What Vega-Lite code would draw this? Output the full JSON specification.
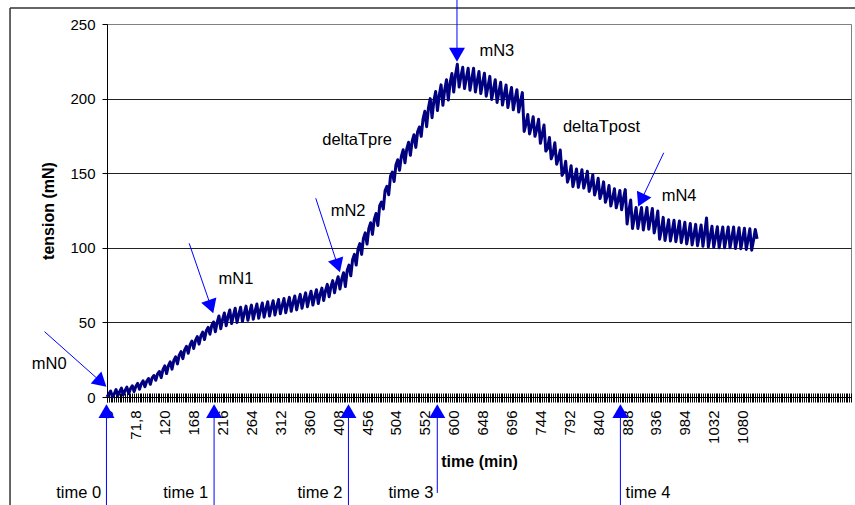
{
  "$schema": "https://vega.github.io/schema/vega-lite/v6.json",
  "width": 744,
  "height": 373,
  "autosize": {"type": "none"},
  "padding": {"left": 107, "top": 24, "right": 4, "bottom": 108},
  "background": "white",
  "config": {
    "font": "Liberation Sans",
    "view": {"stroke": "#808080", "strokeWidth": 1}
  },
  "datasets": {
    "series": [
{"i":0,"v":0},{"i":1,"v":2},{"i":2,"v":4},{"i":3,"v":0},{"i":4,"v":2},{"i":5,"v":5},{"i":6,"v":1},{"i":7,"v":3.5},{"i":8,"v":6},
{"i":9,"v":1.3},{"i":10,"v":4.4},{"i":11,"v":6.6},{"i":12,"v":2.2},{"i":13,"v":5.5},{"i":14,"v":7.5},{"i":15,"v":3.6},{"i":16,"v":7.2},{"i":17,"v":9.1},
{"i":18,"v":5.2},{"i":19,"v":8.8},{"i":20,"v":10.8},{"i":21,"v":6.9},{"i":22,"v":10.5},{"i":23,"v":12.4},{"i":24,"v":8.5},{"i":25,"v":12.8},{"i":26,"v":14.4},
{"i":27,"v":11.2},{"i":28,"v":15.5},{"i":29,"v":17.1},{"i":30,"v":13},{"i":31,"v":18.3},{"i":32,"v":20.9},{"i":33,"v":15.7},{"i":34,"v":21},{"i":35,"v":23.6},
{"i":36,"v":18.7},{"i":37,"v":24.5},{"i":38,"v":26.9},{"i":39,"v":22.2},{"i":40,"v":28.1},{"i":41,"v":30.4},{"i":42,"v":25.7},{"i":43,"v":31.6},{"i":44,"v":33.9},
{"i":45,"v":29.3},{"i":46,"v":35},{"i":47,"v":37.5},{"i":48,"v":32.5},{"i":49,"v":38},{"i":50,"v":40.5},{"i":51,"v":35.5},{"i":52,"v":41},{"i":53,"v":43.5},
{"i":54,"v":38.5},{"i":55,"v":44.4},{"i":56,"v":46.7},{"i":57,"v":42.1},{"i":58,"v":48},{"i":59,"v":50.3},{"i":60,"v":43.7},{"i":61,"v":50},{"i":62,"v":54.3},
{"i":63,"v":45.7},{"i":64,"v":52},{"i":65,"v":56.3},{"i":66,"v":47.7},{"i":67,"v":54},{"i":68,"v":58.3},{"i":69,"v":49.2},{"i":70,"v":54.7},{"i":71,"v":59.5},
{"i":72,"v":49.9},{"i":73,"v":55.4},{"i":74,"v":60.2},{"i":75,"v":50.6},{"i":76,"v":56.1},{"i":77,"v":60.9},{"i":78,"v":51.4},{"i":79,"v":56.8},{"i":80,"v":61.6},
{"i":81,"v":52.1},{"i":82,"v":57.5},{"i":83,"v":62.3},{"i":84,"v":52.8},{"i":85,"v":58.3},{"i":86,"v":63},{"i":87,"v":53.5},{"i":88,"v":59},{"i":89,"v":63.8},
{"i":90,"v":54.3},{"i":91,"v":59.8},{"i":92,"v":64.5},{"i":93,"v":55},{"i":94,"v":60.5},{"i":95,"v":65.3},{"i":96,"v":55.8},{"i":97,"v":61.3},{"i":98,"v":66},
{"i":99,"v":56.5},{"i":100,"v":62},{"i":101,"v":66.8},{"i":102,"v":57.4},{"i":103,"v":63.1},{"i":104,"v":67.7},{"i":105,"v":58.4},{"i":106,"v":64.1},{"i":107,"v":68.8},
{"i":108,"v":59.5},{"i":109,"v":65.2},{"i":110,"v":69.8},{"i":111,"v":60.5},{"i":112,"v":66.2},{"i":113,"v":70.9},{"i":114,"v":61.6},{"i":115,"v":67.3},{"i":116,"v":71.9},
{"i":117,"v":62.6},{"i":118,"v":68.8},{"i":119,"v":73},{"i":120,"v":64.7},{"i":121,"v":71.3},{"i":122,"v":75.5},{"i":123,"v":67.2},{"i":124,"v":73.9},{"i":125,"v":78},
{"i":126,"v":69.8},{"i":127,"v":76.5},{"i":128,"v":80.6},{"i":129,"v":72.4},{"i":130,"v":79.1},{"i":131,"v":83.3},{"i":132,"v":74},{"i":133,"v":84.8},{"i":134,"v":88.4},
{"i":135,"v":81.2},{"i":136,"v":92},{"i":137,"v":95.6},{"i":138,"v":88.4},{"i":139,"v":99.2},{"i":140,"v":102.8},{"i":141,"v":95.6},{"i":142,"v":106.3},{"i":143,"v":110},
{"i":144,"v":102.5},{"i":145,"v":113},{"i":146,"v":116.8},{"i":147,"v":109},{"i":148,"v":119},{"i":149,"v":123},{"i":150,"v":115},{"i":151,"v":128.3},{"i":152,"v":130.7},
{"i":153,"v":126},{"i":154,"v":138.4},{"i":155,"v":141.2},{"i":156,"v":135.6},{"i":157,"v":148},{"i":158,"v":150.8},{"i":159,"v":144.5},{"i":160,"v":155.5},{"i":161,"v":159},
{"i":162,"v":152},{"i":163,"v":161.3},{"i":164,"v":165.7},{"i":165,"v":157},{"i":166,"v":166.3},{"i":167,"v":170.7},{"i":168,"v":162},{"i":169,"v":171.5},{"i":170,"v":175.8},
{"i":171,"v":167.3},{"i":172,"v":177.8},{"i":173,"v":181},{"i":174,"v":174.7},{"i":175,"v":186.3},{"i":176,"v":191.5},{"i":177,"v":181.2},{"i":178,"v":193.6},{"i":179,"v":200},
{"i":180,"v":187.2},{"i":181,"v":198.4},{"i":182,"v":204.8},{"i":183,"v":192},{"i":184,"v":202.3},{"i":185,"v":209.2},{"i":186,"v":195.5},{"i":187,"v":205.8},{"i":188,"v":212.7},
{"i":189,"v":199},{"i":190,"v":210.6},{"i":191,"v":216.8},{"i":192,"v":204.4},{"i":193,"v":216},{"i":194,"v":223},{"i":195,"v":207.7},{"i":196,"v":215},{"i":197,"v":221},
{"i":198,"v":206.7},{"i":199,"v":214},{"i":200,"v":220.3},{"i":201,"v":205.6},{"i":202,"v":212.9},{"i":203,"v":220.3},{"i":204,"v":204.5},{"i":205,"v":211.8},{"i":206,"v":218.1},
{"i":207,"v":203.4},{"i":208,"v":210.3},{"i":209,"v":217},{"i":210,"v":201.6},{"i":211,"v":208.1},{"i":212,"v":214.9},{"i":213,"v":199.4},{"i":214,"v":206},{"i":215,"v":212.7},
{"i":216,"v":197.4},{"i":217,"v":204.3},{"i":218,"v":210.9},{"i":219,"v":195.7},{"i":220,"v":202.6},{"i":221,"v":209.1},{"i":222,"v":194},{"i":223,"v":201},{"i":224,"v":207.5},
{"i":225,"v":192.5},{"i":226,"v":199.5},{"i":227,"v":206},{"i":228,"v":191},{"i":229,"v":198},{"i":230,"v":204},{"i":231,"v":178},{"i":232,"v":182.9},{"i":233,"v":189.4},
{"i":234,"v":176.3},{"i":235,"v":181.2},{"i":236,"v":187.8},{"i":237,"v":174.7},{"i":238,"v":179.6},{"i":239,"v":186.1},{"i":240,"v":170},{"i":241,"v":176},{"i":242,"v":182.3},
{"i":243,"v":164.8},{"i":244,"v":166.8},{"i":245,"v":174},{"i":246,"v":159.6},{"i":247,"v":163.2},{"i":248,"v":170.4},{"i":249,"v":156},{"i":250,"v":160},{"i":251,"v":165.5},
{"i":252,"v":148.5},{"i":253,"v":151},{"i":254,"v":158},{"i":255,"v":144},{"i":256,"v":148},{"i":257,"v":155},{"i":258,"v":141},{"i":259,"v":146.7},{"i":260,"v":152.8},
{"i":261,"v":140.5},{"i":262,"v":146.2},{"i":263,"v":152.3},{"i":264,"v":140},{"i":265,"v":144.5},{"i":266,"v":151.3},{"i":267,"v":137.8},{"i":268,"v":142.2},{"i":269,"v":149},
{"i":270,"v":135.4},{"i":271,"v":139.8},{"i":272,"v":146.6},{"i":273,"v":133},{"i":274,"v":137.3},{"i":275,"v":144.2},{"i":276,"v":130.5},{"i":277,"v":134.8},{"i":278,"v":141.7},
{"i":279,"v":128},{"i":280,"v":133.2},{"i":281,"v":139.6},{"i":282,"v":126.8},{"i":283,"v":132},{"i":284,"v":138.4},{"i":285,"v":125.5},{"i":286,"v":133},{"i":287,"v":139},
{"i":288,"v":116},{"i":289,"v":125},{"i":290,"v":132},{"i":291,"v":113},{"i":292,"v":120},{"i":293,"v":127},{"i":294,"v":113},{"i":295,"v":120},{"i":296,"v":127},
{"i":297,"v":112},{"i":298,"v":119.7},{"i":299,"v":127},{"i":300,"v":112.5},{"i":301,"v":119.2},{"i":302,"v":126.3},{"i":303,"v":110},{"i":304,"v":116.2},{"i":305,"v":124.6},
{"i":306,"v":105.8},{"i":307,"v":112},{"i":308,"v":120.4},{"i":309,"v":104.9},{"i":310,"v":111.6},{"i":311,"v":118.8},{"i":312,"v":104.5},{"i":313,"v":111.3},{"i":314,"v":118.4},
{"i":315,"v":104.1},{"i":316,"v":110.7},{"i":317,"v":118},{"i":318,"v":103.4},{"i":319,"v":109.9},{"i":320,"v":117.1},{"i":321,"v":102.6},{"i":322,"v":109},{"i":323,"v":116.3},
{"i":324,"v":101.9},{"i":325,"v":108.6},{"i":326,"v":115.7},{"i":327,"v":101.4},{"i":328,"v":108.1},{"i":329,"v":115.3},{"i":330,"v":101},{"i":331,"v":110},{"i":332,"v":120},
{"i":333,"v":100.6},{"i":334,"v":107.4},{"i":335,"v":114.5},{"i":336,"v":100.3},{"i":337,"v":107},{"i":338,"v":114.1},{"i":339,"v":100},{"i":340,"v":107},{"i":341,"v":114},
{"i":342,"v":100},{"i":343,"v":107},{"i":344,"v":114},{"i":345,"v":100},{"i":346,"v":106.8},{"i":347,"v":113.9},{"i":348,"v":99.6},{"i":349,"v":106.4},{"i":350,"v":113.5},
{"i":351,"v":99.3},{"i":352,"v":106},{"i":353,"v":113.1},{"i":354,"v":98.9},{"i":355,"v":105.6},{"i":356,"v":112.7},{"i":357,"v":98.4},{"i":358,"v":105.1},{"i":359,"v":112.3},
{"i":360,"v":106}
    ],
    "frame": [
      {"i": -53.7, "v": 260.7, "i2": -53.7, "v2": -80},
      {"i": -53.7, "v": 260.7, "i2": 430, "v2": 260.7}
    ],
    "arrows": [
      {"i": -34.6, "v": 43.8, "i2": -3.2, "v2": 10.0},
      {"i": 45.5, "v": 103, "i2": 57.6, "v2": 60.5},
      {"i": 115.6, "v": 133.2, "i2": 127.8, "v2": 88.0},
      {"i": 193.8, "v": 268, "i2": 193.8, "v2": 229.4},
      {"i": 308.3, "v": 163.7, "i2": 295.8, "v2": 131.8},
      {"i": -0.3, "v": -80, "i2": -0.3, "v2": -9.5},
      {"i": 59.3, "v": -80, "i2": 59.3, "v2": -9.5},
      {"i": 133.7, "v": -80, "i2": 133.7, "v2": -9.5},
      {"i": 182.9, "v": -64.3, "i2": 182.9, "v2": -9.5},
      {"i": 284.3, "v": -80, "i2": 284.3, "v2": -9.5}
    ],
    "heads": [
      {"i": -3.2, "v": 10.0, "rot": 131.6},
      {"i": 57.6, "v": 60.5, "rot": 161.1},
      {"i": 127.8, "v": 88.0, "rot": 161.8},
      {"i": 193.8, "v": 229.4, "rot": 180},
      {"i": 295.8, "v": 131.8, "rot": 205.4},
      {"i": -0.3, "v": -9.5, "rot": 0},
      {"i": 59.3, "v": -9.5, "rot": 0},
      {"i": 133.7, "v": -9.5, "rot": 0},
      {"i": 182.9, "v": -9.5, "rot": 0},
      {"i": 284.3, "v": -9.5, "rot": 0}
    ],
    "notes": [
      {"i": -32, "v": 22.1, "label": "mN0"},
      {"i": 71.4, "v": 79.4, "label": "mN1"},
      {"i": 133.5, "v": 124.7, "label": "mN2"},
      {"i": 138.5, "v": 172.3, "label": "deltaTpre"},
      {"i": 215.9, "v": 231.9, "label": "mN3"},
      {"i": 273.8, "v": 181.3, "label": "deltaTpost"},
      {"i": 316.8, "v": 134.7, "label": "mN4"},
      {"i": -15.7, "v": -64.3, "label": "time 0"},
      {"i": 43.6, "v": -64.3, "label": "time 1"},
      {"i": 117.9, "v": -64.3, "label": "time 2"},
      {"i": 168.3, "v": -64.3, "label": "time 3"},
      {"i": 299.6, "v": -64.3, "label": "time 4"}
    ]
  },
  "resolve": {"axis": {"x": "independent", "y": "independent"}},
  "layer": [
    {
      "data": {"name": "series"},
      "mark": {"type": "line", "color": "#000080", "strokeWidth": 3, "strokeJoin": "round", "clip": false},
      "encoding": {
        "x": {
          "field": "i", "type": "quantitative",
          "scale": {"domain": [0, 412], "nice": false, "zero": false},
          "axis": {
            "orient": "bottom",
            "title": "time (min)",
            "titleFontSize": 16, "titleFontWeight": "bold", "titleColor": "black", "titlePadding": 10,
            "values": [0,16,32,48,64,80,96,112,128,144,160,176,192,208,224,240,256,272,288,304,320,336,352],
            "labelExpr": "['0','71,8','120','168','216','264','312','360','408','456','504','552','600','648','696','744','792','840','888','936','984','1032','1080'][round(datum.value/16)]",
            "labelAngle": -90, "labelFontSize": 15, "labelColor": "black", "labelPadding": 8,
            "labelFlush": false, "labelOverlap": false, "labelBound": false,
            "ticks": true, "tickSize": 5, "tickColor": "black",
            "domain": true, "domainColor": "black", "domainWidth": 1,
            "grid": false, "zindex": 0
          }
        },
        "y": {
          "field": "v", "type": "quantitative",
          "scale": {"domain": [0, 250], "nice": false, "zero": true},
          "axis": {
            "title": "tension (mN)",
            "titleFontSize": 16, "titleFontWeight": "bold", "titleColor": "black", "titlePadding": 13,
            "values": [0, 50, 100, 150, 200, 250],
            "labelFontSize": 15, "labelColor": "black", "labelPadding": 7,
            "tickSize": 5, "tickColor": "black",
            "domainColor": "black", "domainWidth": 1,
            "grid": true,
            "gridColor": {"condition": {"test": "datum.value === 250", "value": "#808080"}, "value": "#222222"},
            "gridWidth": 1,
            "zindex": 0
          }
        }
      }
    },
    {
      "data": {"name": "frame"},
      "mark": {"type": "rule", "color": "#333333", "strokeWidth": 1.5, "clip": false},
      "encoding": {
        "x": {
          "field": "i", "type": "quantitative",
          "axis": {
            "orient": "bottom", "title": null, "labels": false, "domain": false, "grid": false,
            "ticks": true, "tickCount": 400, "tickSize": 9, "tickColor": "black", "tickWidth": 1,
            "offset": -4, "zindex": 0
          }
        },
        "y": {"field": "v", "type": "quantitative", "axis": null},
        "x2": {"field": "i2"},
        "y2": {"field": "v2"}
      }
    },
    {
      "data": {"name": "arrows"},
      "mark": {"type": "rule", "color": "#0000FF", "strokeWidth": 1, "clip": false},
      "encoding": {
        "x": {"field": "i", "type": "quantitative", "axis": null},
        "y": {"field": "v", "type": "quantitative", "axis": null},
        "x2": {"field": "i2"},
        "y2": {"field": "v2"}
      }
    },
    {
      "data": {"name": "heads"},
      "mark": {"type": "point", "shape": "triangle-up", "filled": true, "color": "#0000FF", "opacity": 1, "size": 256, "clip": false},
      "encoding": {
        "x": {"field": "i", "type": "quantitative", "axis": null},
        "y": {"field": "v", "type": "quantitative", "axis": null},
        "angle": {"field": "rot", "type": "quantitative", "scale": null}
      }
    },
    {
      "data": {"name": "notes"},
      "mark": {"type": "text", "fontSize": 16.5, "color": "black", "align": "center", "baseline": "middle", "clip": false},
      "encoding": {
        "x": {"field": "i", "type": "quantitative", "axis": null},
        "y": {"field": "v", "type": "quantitative", "axis": null},
        "text": {"field": "label"}
      }
    }
  ]
}
